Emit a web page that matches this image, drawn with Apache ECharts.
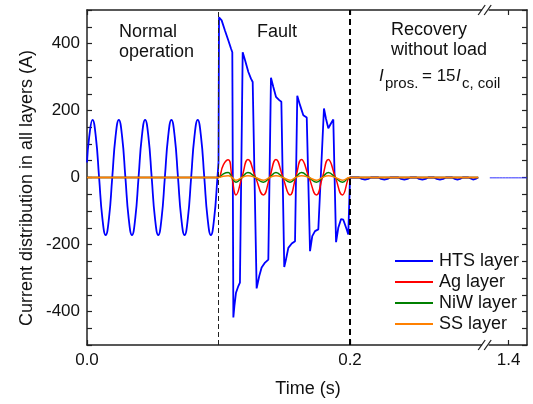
<!DOCTYPE html>
<html>
<head>
<meta charset="utf-8">
<script src="https://cdn.jsdelivr.net/npm/echarts@6/dist/echarts.min.js"></script>
<style>
html,body{margin:0;padding:0;background:#fff;}
#c{width:533px;height:404px;}
</style>
</head>
<body>
<div id="c"></div>
<script>
// ---------- data ----------
const seriesNames = ['HTS layer', 'Ag layer', 'NiW layer', 'SS layer'];
const xTickLabels = [0.0, 0.2, 1.4];
const yTickLabels = [-400, -200, 0, 200, 400];

// HTS layer, normal operation (0 - 0.1 s)
const htsNormal = [
  [0,45],[0.0017,122],[0.0042,172],[0.0067,122],[0.0092,0],[0.0117,-122],[0.0142,-172],[0.0167,-122],[0.0192,0],
  [0.0217,122],[0.0242,172],[0.0267,122],[0.0292,0],[0.0317,-122],[0.0342,-172],[0.0367,-122],[0.0392,0],
  [0.0417,122],[0.0442,172],[0.0467,122],[0.0492,0],[0.0517,-122],[0.0542,-172],[0.0567,-122],[0.0592,0],
  [0.0617,122],[0.0642,172],[0.0667,122],[0.0692,0],[0.0717,-122],[0.0742,-172],[0.0767,-122],[0.0792,0],
  [0.0817,122],[0.0842,172],[0.0867,122],[0.0892,0],[0.0917,-122],[0.0942,-172],[0.0967,-122],[0.0992,0],[0.1,45]
];
// HTS layer, fault (0.1 - 0.2 s) and recovery (0.2 - 0.3 s)
const htsFault = [
  [0.1,45],[0.1004,478],[0.1024,469],[0.1049,439],[0.1075,409],[0.1095,385],[0.1105,374],
  [0.1113,-418],[0.1121,-383],[0.1133,-344],[0.1151,-324],[0.1163,-314],
  [0.1184,374],[0.1202,350],[0.1227,315],[0.1247,295],[0.1260,285],
  [0.1290,-331],[0.1310,-294],[0.1328,-269],[0.1354,-254],[0.1379,-245],
  [0.1399,298],[0.1417,270],[0.1437,241],[0.1462,231],[0.1478,226],
  [0.1500,-267],[0.1513,-245],[0.1531,-210],[0.1557,-197],[0.1582,-190],
  [0.1599,244],[0.1620,216],[0.1645,186],[0.1671,179],[0.1683,176],
  [0.1696,-220],[0.1713,-175],[0.1734,-160],[0.1759,-155],[0.1772,-160],
  [0.1802,206],[0.1817,176],[0.1835,147],[0.1856,162],[0.1873,173],
  [0.1894,-193],[0.1911,-150],[0.1932,-124],[0.1949,-126],[0.1975,-155],[0.1987,-170],[0.1999,-170],
  [0.2000,0],
  [0.2069,0],[0.2089,-4],[0.2114,-6],[0.2139,-4],[0.2159,0],
  [0.2216,0],[0.2236,-4],[0.2261,-6],[0.2286,-4],[0.2306,0],
  [0.2368,0],[0.2388,-4],[0.2413,-6],[0.2438,-4],[0.2458,0],
  [0.2505,0],[0.2525,-4],[0.2550,-6],[0.2575,-4],[0.2595,0],
  [0.2639,0],[0.2659,-4],[0.2684,-6],[0.2709,-4],[0.2729,0],
  [0.2777,0],[0.2797,-4],[0.2817,-6],[0.2837,-4],[0.2857,0],
  [0.2900,0],[0.2915,-4],[0.2935,-6],[0.2955,-4],[0.2975,0]
];
// HTS layer after the axis break
const htsLate = [
  [1.3857,-1],[1.3869,-5],[1.3881,-1],[1.3893,-5],[1.3905,-1],[1.3917,-5],[1.3929,-1],[1.3941,-5],
  [1.3953,-1],[1.3965,-5],[1.3977,-1],[1.3989,-5],[1.4001,-1],[1.4013,-5],[1.4025,-1],[1.4037,-5],
  [1.4049,-1],[1.4061,-5],[1.4073,-1],[1.4085,-5],[1.4097,-1],[1.4109,-5],[1.4121,-1],[1.4133,-5],[1.4140,-1]
];
// Ag layer
const agLayer = [
  [0,0],[0.099,0],[0.1,0],[0.1037,38],[0.1074,53],[0.1103,0],[0.1133,-52],[0.1178,0],[0.1224,54],
  [0.1282,0],[0.1341,-52],[0.1389,0],[0.1437,54],[0.1490,0],[0.1544,-52],[0.1587,0],[0.1631,54],
  [0.1688,0],[0.1745,-52],[0.1790,0],[0.1835,54],[0.1889,0],[0.1943,-52],[0.2,0],[0.201,0],[0.2975,0]
];
// NiW layer
const niwLayer = [
  [0,0],[0.099,0],[0.1,0],[0.1037,11],[0.1074,15],[0.1103,0],[0.1133,-14],[0.1178,0],[0.1224,15],
  [0.1282,0],[0.1341,-14],[0.1389,0],[0.1437,15],[0.1490,0],[0.1544,-14],[0.1587,0],[0.1631,15],
  [0.1688,0],[0.1745,-14],[0.1790,0],[0.1835,15],[0.1889,0],[0.1943,-14],[0.2,0],[0.201,0],[0.2975,0]
];
// SS layer
const ssLayer = [
  [0,0],[0.099,0],[0.1,0],[0.1037,4],[0.1074,5],[0.1103,0],[0.1133,-8],[0.1178,0],[0.1224,5],
  [0.1282,0],[0.1341,-8],[0.1389,0],[0.1437,5],[0.1490,0],[0.1544,-8],[0.1587,0],[0.1631,5],
  [0.1688,0],[0.1745,-8],[0.1790,0],[0.1835,5],[0.1889,0],[0.1943,-8],[0.2,0],[0.201,0],[0.2975,0]
];
// phase boundaries (dashed lines) and the axis break
const phaseLines = [0.1, 0.2];
const axisBreak = {start: 0.3, end: 1.385};

// ---------- chart ----------
const FONT = 'Liberation Sans, Arial, sans-serif';
const colors = {hts: '#0000ff', ag: '#ff0000', niw: '#008000', ss: '#ff8000'};
const chart = echarts.init(document.getElementById('c'), null, {renderer: 'canvas'});

function xAxisCfg(pos, showLabel) {
  return {
    type: 'value', position: pos, min: 0, max: 1.414, interval: 0.2,
    breaks: [{start: axisBreak.start, end: axisBreak.end, gap: 0.0056}],
    breakArea: {show: false, expandOnClick: false},
    axisLine: {show: true, onZero: false, lineStyle: {color: '#222', width: 1.5}},
    axisTick: {show: true, inside: true, length: 5, customValues: xTickLabels, lineStyle: {color: '#222', width: 1.2}},
    splitLine: {show: false},
    axisLabel: {
      show: showLabel, margin: 7, color: '#111', fontSize: 17, fontFamily: FONT,
      customValues: xTickLabels,
      formatter: function (v) { return Number(v).toFixed(1); }
    }
  };
}
function yAxisCfg(pos, showLabel) {
  return {
    type: 'value', position: pos, min: -500, max: 500, interval: 50,
    axisLine: {show: true, onZero: false, lineStyle: {color: '#222', width: 1.5}},
    axisTick: {show: true, inside: true, length: 5, lineStyle: {color: '#222', width: 1.2}},
    splitLine: {show: false},
    axisLabel: {
      show: showLabel, margin: 7, color: '#111', fontSize: 17, fontFamily: FONT,
      formatter: function (v) { return yTickLabels.indexOf(v) >= 0 ? String(v) : ''; }
    }
  };
}

function lineSeries(name, data, color, width, smooth) {
  return {
    name: name, type: 'line', data: data, xAxisIndex: 0, yAxisIndex: 0,
    showSymbol: false, symbol: 'none', smooth: smooth, animation: false,
    lineStyle: {color: color, width: width}, itemStyle: {color: color}, silent: true
  };
}

const ssMain = lineSeries(seriesNames[3], ssLayer, colors.ss, 1.5, true);
ssMain.markLine = {
  silent: true, symbol: ['none', 'none'], label: {show: false}, animation: false,
  data: [
    {xAxis: phaseLines[0], lineStyle: {color: '#222', width: 1, type: [5, 3]}},
    {xAxis: phaseLines[1], lineStyle: {color: '#000', width: 2, type: [6, 4]}}
  ]
};

const option = {
  animation: false,
  textStyle: {fontFamily: FONT},
  grid: {left: 87, right: 6, top: 10, bottom: 59, containLabel: false, outerBoundsMode: 'none'},
  xAxis: [xAxisCfg('bottom', true), xAxisCfg('top', false)],
  yAxis: [yAxisCfg('left', true), yAxisCfg('right', false)],
  legend: {
    data: seriesNames, orient: 'vertical', left: 395, top: 251, padding: 0,
    icon: 'rect', itemWidth: 38, itemHeight: 2, itemGap: 1, selectedMode: false,
    textStyle: {fontSize: 18, lineHeight: 20, color: '#111', fontFamily: FONT, padding: [0, 0, 0, 1]}
  },
  series: [
    lineSeries(seriesNames[0], htsNormal, colors.hts, 1.8, true),
    lineSeries(seriesNames[0], htsFault, colors.hts, 1.8, false),
    lineSeries(seriesNames[0], htsLate, '#3030ff', 1, false),
    lineSeries(seriesNames[1], agLayer, colors.ag, 1.5, true),
    lineSeries(seriesNames[2], niwLayer, colors.niw, 1.5, true),
    ssMain
  ]
};
chart.setOption(option);

// ---------- annotations, titles, break marks ----------
const xa = chart.convertToPixel({xAxisIndex: 0}, axisBreak.start);
const xb = chart.convertToPixel({xAxisIndex: 0}, axisBreak.end);
const mid = (xa + xb) / 2;
const yTop = chart.convertToPixel({yAxisIndex: 0}, 500);
const yBot = chart.convertToPixel({yAxisIndex: 0}, -500);

function txt(text, x, y, size, extra) {
  return Object.assign({
    type: 'text', silent: true, z: 100,
    style: {text: text, x: x, y: y, fill: '#111', font: size + 'px ' + FONT, align: 'left', verticalAlign: 'middle'}
  }, extra || {});
}
function breakMarks(y) {
  return [
    {type: 'rect', silent: true, z: 100, shape: {x: mid - 3, y: y - 3, width: 6, height: 6}, style: {fill: '#fff'}},
    {type: 'line', silent: true, z: 101, shape: {x1: mid - 7, y1: y + 5, x2: mid, y2: y - 5}, style: {stroke: '#222', lineWidth: 1.3}},
    {type: 'line', silent: true, z: 101, shape: {x1: mid - 1, y1: y + 5, x2: mid + 6, y2: y - 5}, style: {stroke: '#222', lineWidth: 1.3}}
  ];
}
const italicI = 'italic 17px ' + FONT;
const elements = [
  txt('Normal', 119, 32, 18),
  txt('operation', 119, 52, 18),
  txt('Fault', 257, 32, 18),
  txt('Recovery', 391, 30, 18),
  txt('without load', 391, 50, 18),
  {type: 'text', silent: true, z: 100, style: {text: 'I', x: 379, y: 76, fill: '#111', font: italicI, verticalAlign: 'middle'}},
  txt('pros.', 385, 84, 15),
  txt('= 15', 422, 76, 17),
  {type: 'text', silent: true, z: 100, style: {text: 'I', x: 456, y: 76, fill: '#111', font: italicI, verticalAlign: 'middle'}},
  txt('c, coil', 462, 84, 15),
  {type: 'text', silent: true, z: 100, rotation: Math.PI / 2, x: 27, y: 188,
   style: {text: 'Current distribution in all layers (A)', x: 0, y: 0, fill: '#111', font: '18px ' + FONT, align: 'center', verticalAlign: 'middle'}},
  {type: 'text', silent: true, z: 100,
   style: {text: 'Time (s)', x: 308, y: 389, fill: '#111', font: '18px ' + FONT, align: 'center', verticalAlign: 'middle'}}
].concat(breakMarks(yTop), breakMarks(yBot));

chart.setOption({graphic: {elements: elements}});
</script>
</body>
</html>
